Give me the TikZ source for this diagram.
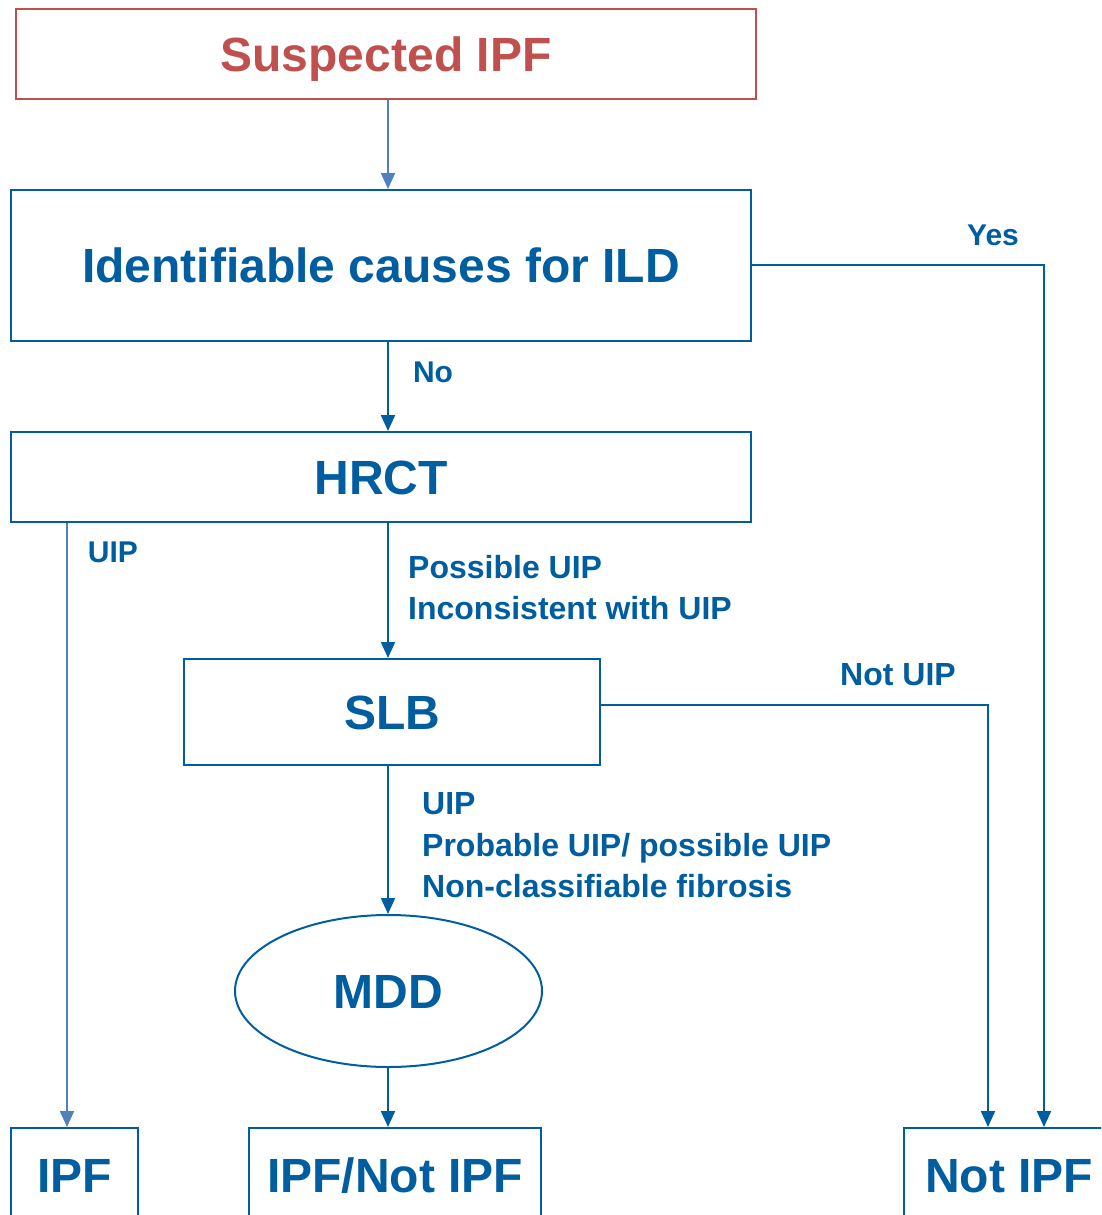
\documentclass[tikz,border=0pt]{standalone}
\usepackage{fontspec}
\setmainfont{Liberation Sans}
\usetikzlibrary{arrows.meta,shapes.geometric,calc}
\definecolor{dblue}{RGB}{0,94,160}
\definecolor{lblue}{RGB}{79,129,189}
\definecolor{myred}{RGB}{192,80,77}
\begin{document}
\begin{tikzpicture}[x=1pt,y=-1pt,
 box/.style={draw=dblue,line width=2pt,text=dblue,font=\bfseries\fontsize{48}{48}\selectfont,text height=34pt,text depth=0pt,inner sep=0pt},
 lbl/.style={text=dblue,font=\bfseries\fontsize{32}{32}\selectfont,inner sep=0pt,text height=23pt,text depth=0pt},
 conn/.style={draw=dblue,line width=2pt},
 arr/.style={conn,-{Triangle[length=16pt,width=14pt]}},
 larr/.style={draw=lblue,line width=2pt,-{Triangle[length=16pt,width=14pt]}}]
\useasboundingbox (0,0) rectangle (1101,1215);
\clip (0,0) rectangle (1101,1215);

\node[box,draw=myred,text=myred,minimum width=740pt,minimum height=90pt] (susp) at (386,54) {Suspected IPF};
\node[box,minimum width=740pt,minimum height=151pt] (ident) at (381,265.5) {Identifiable causes for ILD};
\node[box,minimum width=740pt,minimum height=90pt] (hrct) at (381,477) {HRCT};
\node[box,minimum width=416pt,minimum height=106pt] (slb) at (392,712) {SLB};
\node[box,ellipse,minimum width=307pt,minimum height=152pt] (mdd) at (388.5,991) {MDD};
\node[box,minimum width=127pt,minimum height=94pt] (ipf) at (74.5,1175) {IPF};
\node[box,minimum width=292pt,minimum height=94pt] (ipfnot) at (395,1175) {IPF/Not IPF};
\node[box,minimum width=210pt,minimum height=94pt] (notipf) at (1009,1175) {Not IPF};

\coordinate (cx) at (388,0);
\coordinate (uipx) at (67,0);
\coordinate (yesc) at (1044,265);
\coordinate (nuc) at (988,705);

\draw[larr] (susp.south -| cx) -- (ident.north -| cx);
\draw[arr] (ident.south -| cx) -- (hrct.north -| cx);
\draw[arr] (hrct.south -| cx) -- (slb.north -| cx);
\draw[arr] (slb.south -| cx) -- (mdd.north -| cx);
\draw[arr] (mdd.south -| cx) -- (ipfnot.north -| cx);
\draw[larr] (hrct.south -| uipx) -- (ipf.north -| uipx);
\draw[arr] (ident.east |- yesc) -- (yesc) -- (notipf.north -| yesc);
\draw[arr] (slb.east |- nuc) -- (nuc) -- (notipf.north -| nuc);

\node[lbl,font=\bfseries\fontsize{30}{30}\selectfont,text height=21.5pt] (yes) at (993,235) {Yes};
\node[lbl,font=\bfseries\fontsize{30}{30}\selectfont,text height=21.5pt] (no) at (433,372) {No};
\node[lbl,font=\bfseries\fontsize{30}{30}\selectfont,text height=21.5pt] (uip1) at (113,552) {UIP};
\node[lbl,anchor=west] (pu) at (408,567) {Possible UIP};
\node[lbl,anchor=west] (iu) at (408,608) {Inconsistent with UIP};
\node[lbl] (nu) at (898,674) {Not UIP};
\node[lbl,anchor=west] (u2) at (422,803) {UIP};
\node[lbl,anchor=west] (pp) at (422,845) {Probable UIP/ possible UIP};
\node[lbl,anchor=west] (nc) at (422,886) {Non-classifiable fibrosis};
\end{tikzpicture}
\end{document}
